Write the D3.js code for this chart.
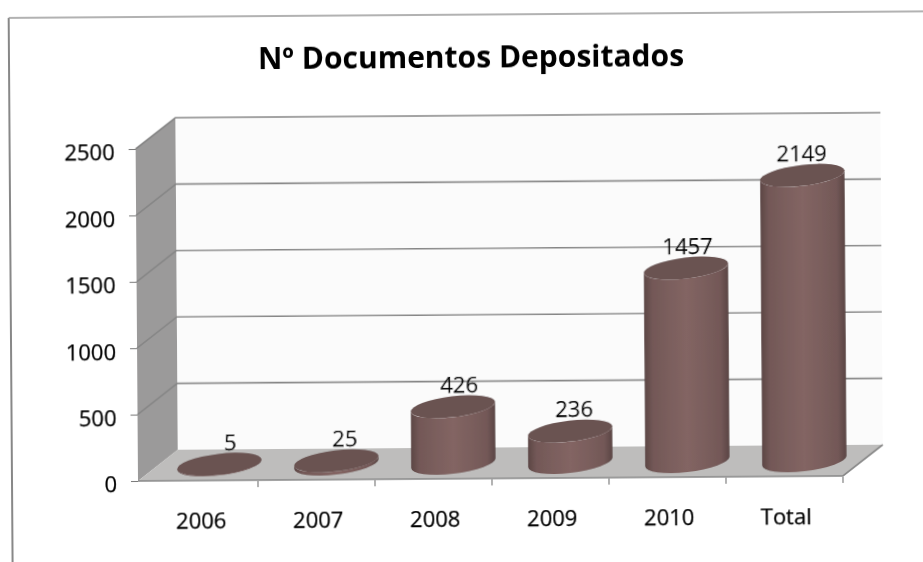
<!DOCTYPE html>
<html><head><meta charset="utf-8">
<script src="https://cdn.jsdelivr.net/npm/d3@7"></script>
<style>html,body{margin:0;background:#fff}svg{display:block}text{font-family:"Open Sans",Lato,sans-serif;fill:#000;stroke:#000;stroke-width:.25px}</style>
</head><body><div id="c"></div>
<script>
const categories = ["2006","2007","2008","2009","2010","Total"];
const values = [5,25,426,236,1457,2149];
const yTicks = [0,500,1000,1500,2000,2500];
const titleText = "Nº Documentos Depositados";

const W=923,H=562;
const svg=d3.select("#c").append("svg").attr("width",W).attr("height",H);
const defs=svg.append("defs");
const bodyGrad=defs.append("linearGradient").attr("id","body");
[[0,"#5c4645"],[.1,"#735857"],[.5,"#836563"],[.9,"#735857"],[1,"#5a4544"]]
  .forEach(([o,c])=>bodyGrad.append("stop").attr("offset",o).attr("stop-color",c));
const blur=defs.append("filter").attr("id","soft");
blur.append("feGaussianBlur").attr("stdDeviation",.35);

// whole scanned page sits at a slight tilt
const g=svg.append("g").attr("transform","rotate(-0.41 138 481)").attr("filter","url(#soft)");

const x=d3.scaleBand().domain(categories).range([141,843]);
const y=d3.scaleLinear().domain([0,2500]).range([481,149]);
const depth={dx:40,dy:-31};
const right=843, left=138;
const backL=left+depth.dx, backR=right+depth.dx;

// page frame
g.append("path").attr("d",`M12 ${H+20}V17`).attr("fill","none").attr("stroke","#555").attr("stroke-width",1.4);
g.append("path").attr("d",`M12 17H${W+20}`).attr("fill","none").attr("stroke","#999").attr("stroke-width",1.3);

// title
g.append("text").attr("x",474).attr("y",70).attr("text-anchor","middle")
 .attr("font-size",30).attr("font-weight",700).style("stroke","none").text(titleText);

// back wall, side wall, floor
g.append("rect").attr("x",backL).attr("y",y(2500)+depth.dy).attr("width",backR-backL)
 .attr("height",y(0)-y(2500)).attr("fill","#fbfbfb");
g.append("path").attr("fill","#9b9a9a")
 .attr("d",`M${left} ${y(0)}V${y(2500)}L${backL} ${y(2500)+depth.dy}V${y(0)+depth.dy}Z`);
g.append("path").attr("fill","#bebdbc")
 .attr("d",`M${left} ${y(0)}L${backL} ${y(0)+depth.dy}H${backR}L${right} ${y(0)}Z`);

// gridlines
g.append("g").selectAll("path").data(yTicks).join("path")
 .attr("fill","none").attr("stroke","#868686").attr("stroke-width",1.6)
 .attr("d",d=>d===0?`M${left} ${y(0)}H${right}L${backR} ${y(0)+depth.dy}`
   :`M${left} ${y(d)}L${backL} ${y(d)+depth.dy}H${backR}`);

// axes
const yAxis=d3.axisLeft(y).tickValues(yTicks).tickSize(7).tickPadding(14).tickFormat(d3.format("d"));
const ya=g.append("g").attr("transform",`translate(${left},0)`).call(yAxis);
ya.select(".domain").remove();
ya.selectAll("line").attr("stroke","#777");
ya.selectAll("text").attr("font-size",22).attr("dy","0.5em");

const xAxis=d3.axisBottom(x).tickSize(0).tickPadding(32);
const xa=g.append("g").attr("transform",`translate(1.5,${y(0)})`).call(xAxis);
xa.select(".domain").remove();
xa.selectAll("text").attr("font-size",22);
g.append("g").selectAll("line").data(categories).join("line")
 .attr("x1",d=>x(d)+x.bandwidth()).attr("x2",d=>x(d)+x.bandwidth())
 .attr("y1",y(0)+1).attr("y2",y(0)+7).attr("stroke","#666");

// cylinders
const rx=42.5, ry=10.5, tiltDeg=-6.5, tilt=tiltDeg*Math.PI/180;
const tang=Math.atan(-(ry/rx)*Math.tan(tilt));
const ex=rx*Math.cos(tang)*Math.cos(tilt)-ry*Math.sin(tang)*Math.sin(tilt);
const ey=rx*Math.cos(tang)*Math.sin(tilt)+ry*Math.sin(tang)*Math.cos(tilt);
const cx=d=>x(d)+x.bandwidth()/2+depth.dx/2;
const baseY=y(0)+depth.dy/2;
const cyl=g.append("g").selectAll("g").data(categories.map((c,i)=>({c,v:values[i],i}))).join("g");
cyl.append("path").attr("fill","url(#body)").attr("d",d=>{
  const c=cx(d.c), top=baseY-(y(0)-y(d.v));
  return `M${c-ex} ${top-ey}L${c-ex} ${baseY-ey}A${rx} ${ry} ${tiltDeg} 0 0 ${c+ex} ${baseY+ey}L${c+ex} ${top+ey}A${rx} ${ry} ${tiltDeg} 0 1 ${c-ex} ${top-ey}Z`;
});
cyl.append("ellipse").attr("fill","#6a5251")
 .attr("rx",rx).attr("ry",ry)
 .attr("transform",d=>`translate(${cx(d.c)},${baseY-(y(0)-y(d.v))}) rotate(${tiltDeg})`);

// value labels
cyl.append("text").attr("text-anchor","middle").attr("font-size",22)
 .attr("x",d=>cx(d.c)+11-2.3*d.i)
 .attr("y",d=>baseY-(y(0)-y(d.v))-14)
 .text(d=>d.v);
</script></body></html>
